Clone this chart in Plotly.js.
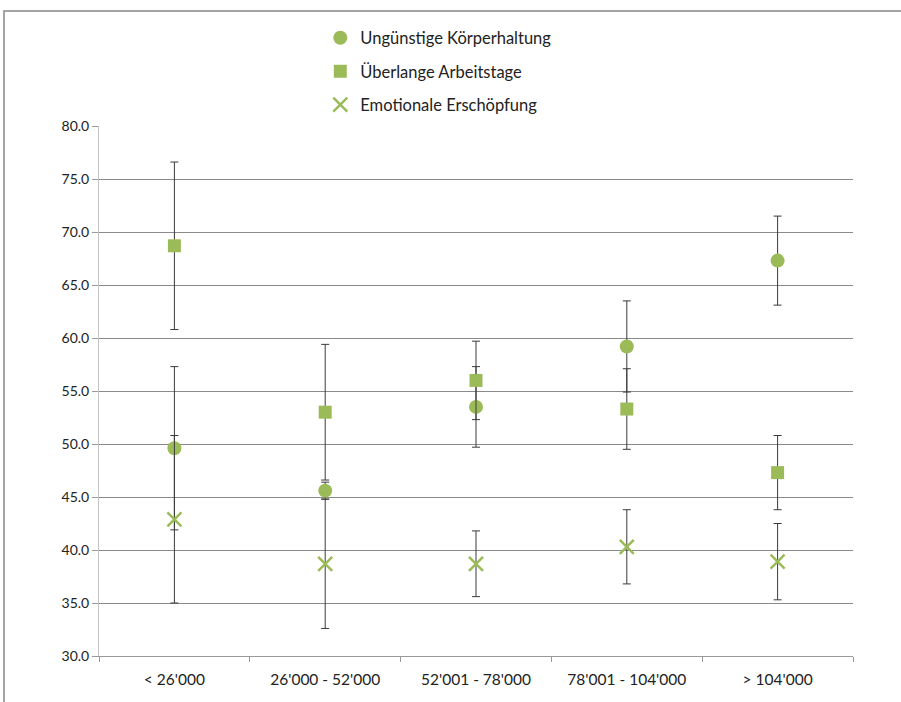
<!DOCTYPE html>
<html><head><meta charset="utf-8">
<script src="https://cdn.plot.ly/plotly-3.0.1.min.js"></script>
<style>body{margin:0;padding:0;background:#fff}#chart{width:901px;height:702px}</style>
</head><body><div id="chart"></div>
<script>
const categories = ["< 26'000", "26'000 - 52'000", "52'001 - 78'000", "78'001 - 104'000", "> 104'000"];
const seriesNames = ["Ungünstige Körperhaltung", "Überlange Arbeitstage", "Emotionale Erschöpfung"];
const koerperhaltung = [49.6, 45.6, 53.5, 59.2, 67.3];
const koerperhaltungErr = [7.7, 0.8, 3.8, 4.3, 4.2];
const arbeitstage = [68.7, 53.0, 56.0, 53.3, 47.3];
const arbeitstageErr = [7.9, 6.4, 3.7, 3.8, 3.5];
const erschoepfung = [42.9, 38.7, 38.7, 40.3, 38.9];
const erschoepfungErr = [7.9, 6.1, 3.1, 3.5, 3.6];
const yTicks = [30, 35, 40, 45, 50, 55, 60, 65, 70, 75, 80];

const green = '#9BBB59';
const errStyle = (arr) => ({type: 'data', array: arr, visible: true, color: '#3a3a3a', thickness: 1, width: 4});

const traces = [
  {x: categories, y: koerperhaltung, name: seriesNames[0], type: 'scatter', mode: 'markers', legendgroup: 'a',
   marker: {symbol: 'circle', size: 14, color: green}, error_y: errStyle(koerperhaltungErr)},
  {x: categories, y: arbeitstage, name: seriesNames[1], type: 'scatter', mode: 'markers', legendgroup: 'b',
   marker: {symbol: 'square', size: 13, color: green}, error_y: errStyle(arbeitstageErr)},
  {x: categories, y: erschoepfung, name: seriesNames[2], type: 'scatter', mode: 'markers', legendgroup: 'c',
   marker: {symbol: 'x-thin', size: 14, color: green, line: {color: green, width: 2.5}}, error_y: errStyle(erschoepfungErr)}
];

const fam = 'Lato, "Open Sans", sans-serif';

const layout = {
  width: 901, height: 702,
  margin: {l: 99, r: 48, t: 126, b: 46},
  paper_bgcolor: '#fff', plot_bgcolor: '#fff',
  font: {family: fam, size: 14, color: '#222'},
  showlegend: true,
  legend: {x: 0.2935, xanchor: 'left', y: 1.199, yanchor: 'top', orientation: 'v',
           traceorder: 'grouped', tracegroupgap: 9, font: {family: fam, size: 16.5, color: '#222'},
           bgcolor: 'rgba(0,0,0,0)', itemwidth: 30},
  xaxis: {type: 'category', tickson: 'boundaries', ticks: 'outside', ticklen: 5, tickcolor: '#999',
          showline: true, linecolor: '#999', linewidth: 1, showgrid: false, zeroline: false,
          ticklabelstandoff: 9,
          tickfont: {family: fam, size: 15.5, color: '#222'}, range: [-0.5, 4.5]},
  yaxis: {range: [30, 80], tickvals: yTicks, tickformat: '.1f', ticks: 'outside', ticklen: 6, tickcolor: '#999',
          showgrid: true, gridcolor: '#8a8a8a', gridwidth: 1, zeroline: false, showline: true, linecolor: '#c4c4c4',
          tickfont: {family: fam, size: 14, color: '#222'}},
  shapes: [{type: 'rect', xref: 'paper', yref: 'paper', x0: -0.126, x1: 1.3, y0: -0.3, y1: 1.217,
            line: {color: '#888', width: 1.5}, fillcolor: 'rgba(0,0,0,0)', layer: 'below'}]
};

Plotly.newPlot('chart', traces, layout, {displayModeBar: false, staticPlot: true});
</script></body></html>
